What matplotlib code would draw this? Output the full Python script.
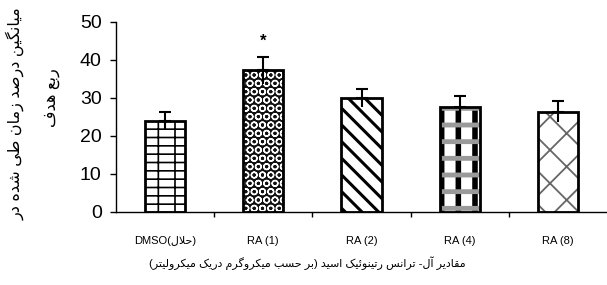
import numpy as np
import matplotlib
matplotlib.use('Agg')
import matplotlib.pyplot as plt

# data
groups = ['DMSO', 'RA (1)', 'RA (2)', 'RA (4)', 'RA (8)']
means = [24.0, 37.3, 29.9, 27.7, 26.4]
errs = [2.3, 3.5, 2.4, 2.7, 2.7]
star_group = 1
ylab1 = 'میانگین درصد زمان طی شده در'
ylab2 = 'ربع هدف'
xlab = 'مقادیر آل- ترانس رتینوئیک اسید (بر حسب میکروگرم دریک میکرولیتر)'
solvent = 'حلال'

# minimal persian shaping (matplotlib has no bidi / joining)
# forms: isolated, final, initial, medial
FORMS = {
    'ا': (0xFE8D, 0xFE8E, None, None),
    'آ': (0xFE81, 0xFE82, None, None),
    'ب': (0xFE8F, 0xFE90, 0xFE91, 0xFE92),
    'ت': (0xFE95, 0xFE96, 0xFE97, 0xFE98),
    'ح': (0xFEA1, 0xFEA2, 0xFEA3, 0xFEA4),
    'د': (0xFEA9, 0xFEAA, None, None),
    'ر': (0xFEAD, 0xFEAE, None, None),
    'ز': (0xFEAF, 0xFEB0, None, None),
    'س': (0xFEB1, 0xFEB2, 0xFEB3, 0xFEB4),
    'ش': (0xFEB5, 0xFEB6, 0xFEB7, 0xFEB8),
    'ص': (0xFEB9, 0xFEBA, 0xFEBB, 0xFEBC),
    'ط': (0xFEC1, 0xFEC2, 0xFEC3, 0xFEC4),
    'ع': (0xFEC9, 0xFECA, 0xFECB, 0xFECC),
    'ف': (0xFED1, 0xFED2, 0xFED3, 0xFED4),
    'ق': (0xFED5, 0xFED6, 0xFED7, 0xFED8),
    'ل': (0xFEDD, 0xFEDE, 0xFEDF, 0xFEE0),
    'م': (0xFEE1, 0xFEE2, 0xFEE3, 0xFEE4),
    'ن': (0xFEE5, 0xFEE6, 0xFEE7, 0xFEE8),
    'ه': (0xFEE9, 0xFEEA, 0xFEEB, 0xFEEC),
    'و': (0xFEED, 0xFEEE, None, None),
    'ئ': (0xFE89, 0xFE8A, 0xFE8B, 0xFE8C),
    '\u06cc': (0xFBFC, 0xFBFD, 0xFBFE, 0xFBFF),
    '\u064a': (0xFBFC, 0xFBFD, 0xFBFE, 0xFBFF),
    '\u06a9': (0xFB8E, 0xFB8F, 0xFB90, 0xFB91),
    '\u0643': (0xFB8E, 0xFB8F, 0xFB90, 0xFB91),
    'گ': (0xFB92, 0xFB93, 0xFB94, 0xFB95),
}
LAMALEF = {'ا': (0xFEFB, 0xFEFC), 'آ': (0xFEF5, 0xFEF6)}


def dual(c):
    return c in FORMS and FORMS[c][2] is not None


def shape(s):
    out = []
    i = 0
    n = len(s)
    while i < n:
        c = s[i]
        if c not in FORMS:
            out.append(c)
            i += 1
            continue
        prev = s[i-1] if i > 0 else ''
        join_prev = dual(prev) and i > 0
        if c == 'ل' and i+1 < n and s[i+1] in LAMALEF:
            f = LAMALEF[s[i+1]]
            out.append(chr(f[1] if join_prev else f[0]))
            i += 2
            continue
        nxt = s[i+1] if i+1 < n else ''
        join_next = dual(c) and nxt in FORMS
        f = FORMS[c]
        if join_prev and join_next:
            out.append(chr(f[3]))
        elif join_prev:
            out.append(chr(f[1]))
        elif join_next:
            out.append(chr(f[2]))
        else:
            out.append(chr(f[0]))
        i += 1
    return out


def rtl(s):
    # right to left line, brackets mirrored
    mirror = {'(': ')', ')': '('}
    return ''.join(mirror.get(c, c) for c in shape(s)[::-1])


fam = ['Liberation Sans', 'DejaVu Sans']
plt.rcParams['font.family'] = fam

fig = plt.figure(figsize=(6.07, 2.85), dpi=100)
ax = fig.add_axes([116/607, 1-212/285, 491/607, 190/285])

x = np.arange(len(groups))
w = 0.41

# fill styles: (face, hatch colour, hatch, hatch lw)
styles = [
    [('white', 'black', '|--', 1.2)],
    [('#111111', 'white', 'OO', 1.0)],
    [('white', 'black', '\\\\', 2.2)],
    [('white', 'black', '|', 4.0), ('none', '#9a9a9a', '-', 3.5)],
    [('white', '#666666', 'x', 1.3)],
]
for i in range(len(groups)):
    for face, hc, h, hlw in styles[i]:
        with plt.rc_context({'hatch.linewidth': hlw}):
            b = ax.bar(x[i], means[i], w, color=face, edgecolor=hc, hatch=h, linewidth=0, zorder=2)
        for p in b:
            if hasattr(p, 'set_hatch_linewidth'):
                p.set_hatch_linewidth(hlw)
    ax.bar(x[i], means[i], w, fill=False, edgecolor='black', linewidth=2, zorder=3)

ax.errorbar(x, means, yerr=[np.zeros(len(errs)), errs], fmt='none', ecolor='black',
            elinewidth=1.5, capsize=4.5, capthick=1.5, zorder=4)
ax.errorbar(x, means, yerr=[errs, np.zeros(len(errs))], fmt='none', ecolor='black',
            elinewidth=1.5, capsize=0, zorder=4)
ax.text(x[star_group], means[star_group]+errs[star_group]+4.0, '*', ha='center', va='center',
        fontsize=12, fontweight='bold')

ax.set_xlim(-0.5, len(groups)-0.5)
ax.set_ylim(0, 50)
ax.set_yticks(np.arange(0, 51, 10))
ax.tick_params(axis='y', direction='out', length=4.3, width=1, labelsize=14, pad=6)
ax.set_xticks(x)
labels = ['DMSO(' + rtl(solvent) + ')'] + groups[1:]
ax.set_xticklabels(labels, fontsize=8)
ax.tick_params(axis='x', length=0, pad=17)
ax.set_xticks(np.arange(0.5, len(groups)-0.5, 1), minor=True)
ax.tick_params(axis='x', which='minor', direction='out', length=3.5, width=1)
for s in ['top', 'right']:
    ax.spines[s].set_visible(False)
ax.spines['left'].set_linewidth(1)
ax.spines['bottom'].set_linewidth(1)

fig.text(15/607, 1-114/285, rtl(ylab1), rotation=90, ha='center', va='center', fontsize=11.5)
fig.text(52/607, 1-98/285, rtl(ylab2), rotation=90, ha='center', va='center', fontsize=11.5)
fig.text(307/607, 1-263/285, rtl(xlab), ha='center', va='center', fontsize=8)

fig.savefig('out.png', dpi=100)
